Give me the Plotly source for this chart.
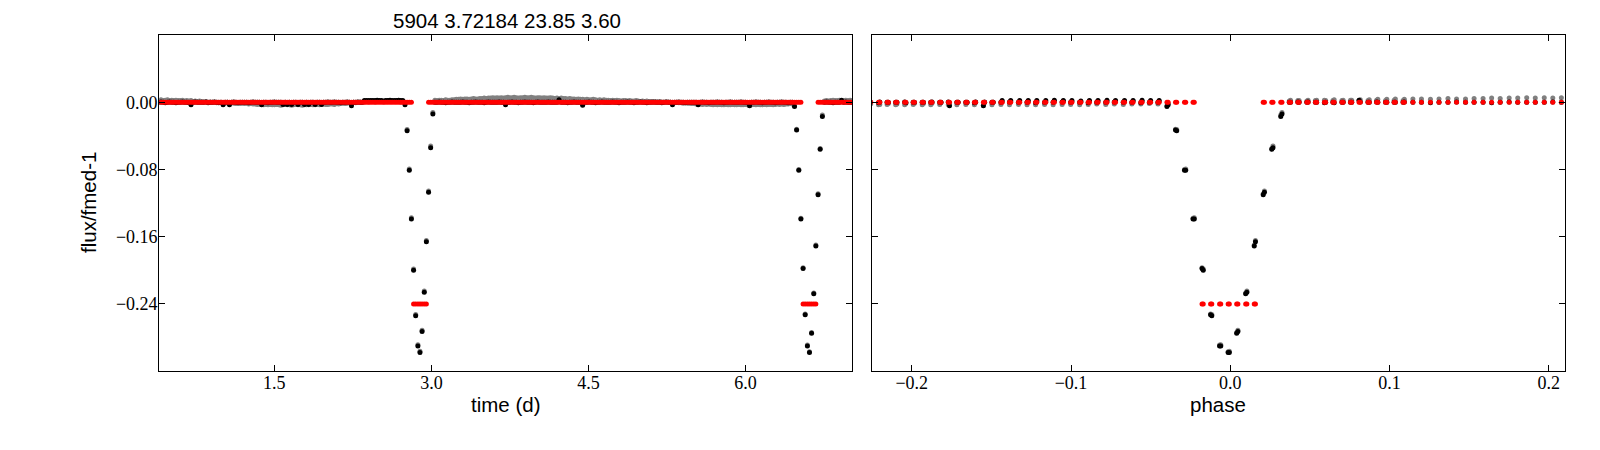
import numpy as np
import plotly.graph_objects as go

# ---------------- data ----------------
# observation times (days), long-cadence sampling
time_d = [
    0.398, 0.418, 0.439, 0.459, 0.480, 0.500, 0.521, 0.541, 0.561, 0.582,
    0.602, 0.623, 0.643, 0.664, 0.684, 0.705, 0.725, 0.745, 0.766, 0.786,
    0.807, 0.827, 0.848, 0.868, 0.888, 0.909, 0.929, 0.950, 0.970, 0.991,
    1.011, 1.031, 1.052, 1.072, 1.093, 1.113, 1.134, 1.154, 1.174, 1.195,
    1.215, 1.236, 1.256, 1.277, 1.297, 1.318, 1.338, 1.358, 1.379, 1.399,
    1.420, 1.440, 1.461, 1.481, 1.501, 1.522, 1.542, 1.563, 1.583, 1.604,
    1.624, 1.644, 1.665, 1.685, 1.706, 1.726, 1.747, 1.767, 1.788, 1.808,
    1.828, 1.849, 1.869, 1.890, 1.910, 1.931, 1.951, 1.971, 1.992, 2.012,
    2.033, 2.053, 2.074, 2.094, 2.114, 2.135, 2.155, 2.176, 2.196, 2.217,
    2.237, 2.257, 2.278, 2.298, 2.319, 2.339, 2.360, 2.380, 2.401, 2.421,
    2.441, 2.462, 2.482, 2.503, 2.523, 2.544, 2.564, 2.584, 2.605, 2.625,
    2.646, 2.666, 2.687, 2.707, 2.727, 2.748, 2.768, 2.789, 2.809, 2.830,
    2.850, 2.871, 2.891, 2.911, 2.932, 2.952, 2.973, 2.993, 3.014, 3.034,
    3.054, 3.075, 3.095, 3.116, 3.136, 3.157, 3.177, 3.197, 3.218, 3.238,
    3.259, 3.279, 3.300, 3.320, 3.340, 3.361, 3.381, 3.402, 3.422, 3.443,
    3.463, 3.484, 3.504, 3.524, 3.545, 3.565, 3.586, 3.606, 3.627, 3.647,
    3.667, 3.688, 3.708, 3.729, 3.749, 3.770, 3.790, 3.810, 3.831, 3.851,
    3.872, 3.892, 3.913, 3.933, 3.954, 3.974, 3.994, 4.015, 4.035, 4.056,
    4.076, 4.097, 4.117, 4.137, 4.158, 4.178, 4.199, 4.219, 4.240, 4.260,
    4.280, 4.301, 4.321, 4.342, 4.362, 4.383, 4.403, 4.423, 4.444, 4.464,
    4.485, 4.505, 4.526, 4.546, 4.567, 4.587, 4.607, 4.628, 4.648, 4.669,
    4.689, 4.710, 4.730, 4.750, 4.771, 4.791, 4.812, 4.832, 4.853, 4.873,
    4.893, 4.914, 4.934, 4.955, 4.975, 4.996, 5.016, 5.037, 5.057, 5.077,
    5.098, 5.118, 5.139, 5.159, 5.180, 5.200, 5.220, 5.241, 5.261, 5.282,
    5.302, 5.323, 5.343, 5.363, 5.384, 5.404, 5.425, 5.445, 5.466, 5.486,
    5.507, 5.527, 5.547, 5.568, 5.588, 5.609, 5.629, 5.650, 5.670, 5.690,
    5.711, 5.731, 5.752, 5.772, 5.793, 5.813, 5.833, 5.854, 5.874, 5.895,
    5.915, 5.936, 5.956, 5.976, 5.997, 6.017, 6.038, 6.058, 6.079, 6.099,
    6.120, 6.140, 6.160, 6.181, 6.201, 6.222, 6.242, 6.263, 6.283, 6.303,
    6.324, 6.344, 6.365, 6.385, 6.406, 6.426, 6.446, 6.467, 6.487, 6.508,
    6.528, 6.549, 6.569, 6.590, 6.610, 6.630, 6.651, 6.671, 6.692, 6.712,
    6.733, 6.753, 6.773, 6.794, 6.814, 6.835, 6.855, 6.876, 6.896, 6.916,
    6.937, 6.957, 6.978, 6.998, 7.019,
]

# raw relative flux (grey), parts per thousand
raw_flux_ppt = [
    2.5, 3, 2, 2.5, 3, 2, 2.5, 2, 2.5, 2,
    2, 2.5, 1.5, 2, 1.5, 2, 1, 1.5, 1, 1.5,
    1, 0.5, 1, 0, 0.5, 0, 0.5, -0.5, 0, -0.5,
    -0.5, -1, 0, -1, -0.5, -1, -1.5, -1, -1.5, -1,
    -1.5, -1, -2, -1.5, -2, -2, -2.5, -2, -2.5, -3,
    -2.5, -3, -2.5, -3, -3, -2.5, -3, -3.5, -3, -2.5,
    -3, -3, -3.5, -3, -2.5, -3, -3, -3.5, -3, -3,
    -3, -2.5, -3, -3, -2.5, -3, -2.5, -2, -2.5, -2.5,
    -2, -2, -2.5, -1.5, -2, -1.5, -1, -1.5, -1, -0.5,
    -0.5, 0, -0.5, 0, 0.5, 0, 0.5, 1, 0.5, 1,
    1, 0.5, 1, 1.5, 1, 0.5, 1, 1.5, 1, 1,
    1, 1.5, 1, 0.5, 1, -1.5, -32.5, -79.5, -137.5, -198.5,
    -252.5, -288.5, -296.5, -271.5, -224.5, -164.5, -105.5, -52, -12, 2.5,
    2, 2.5, 2.5, 2, 3, 2.5, 2.5, 3, 3, 3.5,
    3.5, 4, 3.5, 4, 4, 3.5, 4, 4.5, 4, 4,
    4.5, 4.5, 5, 4.5, 5, 5, 5.5, 5, 5.5, 5,
    5.5, 5, 5.5, 6, 5.5, 5.5, 6, 5.5, 5, 5.5,
    5.5, 6, 5.5, 5.5, 6, 5.5, 5, 5.5, 5.5, 5,
    5.5, 5, 5, 5.5, 5, 4.5, 5, 4.5, 5, 4.5,
    4.5, 4, 4.5, 4, 4, 3.5, 4, 3.5, 3.5, 3,
    3.5, 3, 3, 3.5, 3, 2.5, 3, 2.5, 3, 2.5,
    2.5, 2, 2.5, 2, 2.5, 2, 1.5, 2, 2, 1.5,
    2, 1.5, 1.5, 2, 1.5, 1, 1.5, 1, 1.5, 1,
    1, 0.5, 1, 0.5, 1, 0.5, 0, 0.5, 0.5, 0,
    0, -0.5, 0, -0.5, -0.5, -1, -0.5, -1, -1, -1.5,
    -1.5, -2, -1.5, -2, -2.5, -2, -2.5, -2, -2.5, -3,
    -2.5, -3, -2.5, -3, -3, -2.5, -3, -3, -2.5, -3,
    -3, -2.5, -3, -3, -2.5, -3, -3.5, -3, -2.5, -3,
    -2.5, -3, -3, -2.5, -3, -2.5, -2.5, -3, -2.5, -2,
    -2.5, -2, -2.5, -2, -2, -1.5, -2, -4, -32, -80,
    -138, -197, -252, -289, -297, -274, -227, -170, -109, -55,
    -15, 1.5, 2, 1.5, 2, 2.5, 2, 2, 2.5, 2,
    2, 2.5, 2, 2.5, 2,
]

# detrended flux (black), parts per thousand
detrended_flux_ppt = [
    0, 0.5, 0, -0.5, 0, 0.5, 0, 0, -0.5, 0,
    0, 0.5, 0, 0, -0.5, -3, 0, 0.5, 0, 0,
    0, 0, 0.5, -0.5, 0, 0, 0.5, 0, -0.5, 0,
    -3, 0, 0, -3, 0, 0.5, 0, -0.5, 0, 0,
    0, 0, -0.5, 0, 0.5, 0, 0, 0, -3, 0,
    0, -0.5, 0, 0, 0.5, 0, 0, 0, -2.5, 0,
    -2.5, 0, -2.5, 0, 0, -2.5, 0, 0, -2.5, 0,
    -2.5, 0, 0, -2.5, 0, 0, -2.5, 0, 0, 0.5,
    0, 0, 0.5, 0, 0, -0.5, 0, 0, 0.5, 0,
    -4, 0, 0, 0.5, 0, 0, 2, 2, 2, 2,
    2, 2, 2.5, 2, 2, 1.5, 2, 2, 2.5, 2,
    2, 2, 2.5, 2, 2, -3, -34, -81, -139, -200,
    -254, -290, -298, -273, -226, -166, -107, -54, -14, 0,
    0, 0.5, 0, 0, -0.5, 0, 0, 0.5, 0, 0,
    0, 0, 0.5, 0, 0, -0.5, 0, 0, 0.5, 0,
    0, 0, -0.5, 0, 0.5, 0, 0, 0, 0, 0.5,
    0, 0, -3, 0, 0, 0.5, 0, 0, -0.5, 0,
    0, 0.5, 0, 0, 0, -0.5, 0, 0.5, 0, 0,
    0, 0, 0.5, 0, 0, 0, 0, 3, 0, 0,
    0, -0.5, 0, 0, 0.5, 0, 0, 0, -3.5, 0,
    0, 0.5, 0, 0, -0.5, 0, 0, 0.5, 0, 0,
    0, 0, 0.5, 0, 0, -0.5, 0, 0, 0, 0.5,
    0, 0, -0.5, 0, 0, 0.5, 0, 0, -0.5, 0,
    0, 0.5, 0, 0, 0, -0.5, 0, 0.5, 0, 0,
    -3, 0, 0, 0.5, 0, 0, -0.5, 0, 0, 0,
    0, 0, -3, 0, 0.5, 0, 0, -0.5, 0, 0,
    0, 0.5, 0, 0, -0.5, 0, 0, 0.5, 0, 0,
    0, 0, 0.5, 0, 0, -0.5, -4, 0, 0, 0.5,
    0, 0, -0.5, 0, 0, 0.5, 0, 0, -0.5, 0,
    0, 0.5, 0, 0, -0.5, 0, 0, -5, -33, -81,
    -139, -198, -253, -290, -298, -275, -228, -171, -110, -56,
    -17, 0, 0.5, 0, 0, -0.5, 0, 0, 0, 2.5,
    0, 0.5, 0, 0, 0,
]

# box transit model (red), parts per thousand
model_flux_ppt = [
    0, 0, 0, 0, 0, 0, 0, 0, 0, 0,
    0, 0, 0, 0, 0, 0, 0, 0, 0, 0,
    0, 0, 0, 0, 0, 0, 0, 0, 0, 0,
    0, 0, 0, 0, 0, 0, 0, 0, 0, 0,
    0, 0, 0, 0, 0, 0, 0, 0, 0, 0,
    0, 0, 0, 0, 0, 0, 0, 0, 0, 0,
    0, 0, 0, 0, 0, 0, 0, 0, 0, 0,
    0, 0, 0, 0, 0, 0, 0, 0, 0, 0,
    0, 0, 0, 0, 0, 0, 0, 0, 0, 0,
    0, 0, 0, 0, 0, 0, 0, 0, 0, 0,
    0, 0, 0, 0, 0, 0, 0, 0, 0, 0,
    0, 0, 0, 0, 0, 0, 0, 0, 0, -240,
    -240, -240, -240, -240, -240, -240, 0, 0, 0, 0,
    0, 0, 0, 0, 0, 0, 0, 0, 0, 0,
    0, 0, 0, 0, 0, 0, 0, 0, 0, 0,
    0, 0, 0, 0, 0, 0, 0, 0, 0, 0,
    0, 0, 0, 0, 0, 0, 0, 0, 0, 0,
    0, 0, 0, 0, 0, 0, 0, 0, 0, 0,
    0, 0, 0, 0, 0, 0, 0, 0, 0, 0,
    0, 0, 0, 0, 0, 0, 0, 0, 0, 0,
    0, 0, 0, 0, 0, 0, 0, 0, 0, 0,
    0, 0, 0, 0, 0, 0, 0, 0, 0, 0,
    0, 0, 0, 0, 0, 0, 0, 0, 0, 0,
    0, 0, 0, 0, 0, 0, 0, 0, 0, 0,
    0, 0, 0, 0, 0, 0, 0, 0, 0, 0,
    0, 0, 0, 0, 0, 0, 0, 0, 0, 0,
    0, 0, 0, 0, 0, 0, 0, 0, 0, 0,
    0, 0, 0, 0, 0, 0, 0, 0, 0, 0,
    0, 0, 0, 0, 0, 0, 0, 0, 0, 0,
    0, 0, 0, 0, 0, 0, 0, 0, 0, 0,
    0, -240, -240, -240, -240, -240, -240, -240, 0, 0,
    0, 0, 0, 0, 0, 0, 0, 0, 0, 0,
    0, 0, 0, 0, 0,
]

PERIOD = 3.72184      # days (from the title)
EPOCH = 2.8932        # transit mid-time, days
title_text = "5904 3.72184 23.85 3.60"

y_tick_vals = [0.0, -0.08, -0.16, -0.24]
y_tick_text = ["0.00", "\u22120.08", "\u22120.16", "\u22120.24"]
time_tick_vals = [1.5, 3.0, 4.5, 6.0]
time_tick_text = ["1.5", "3.0", "4.5", "6.0"]
phase_tick_vals = [-0.2, -0.1, 0.0, 0.1, 0.2]
phase_tick_text = ["\u22120.2", "\u22120.1", "0.0", "0.1", "0.2"]

assert len(time_d) == len(raw_flux_ppt) == len(detrended_flux_ppt) == len(model_flux_ppt)

# ---------------- derived ----------------
t = np.array(time_d)
raw = np.array(raw_flux_ppt) / 1000.0
det = np.array(detrended_flux_ppt) / 1000.0
mod = np.array(model_flux_ppt) / 1000.0
phase = ((t - EPOCH) / PERIOD + 0.5) % 1.0 - 0.5

W, H = 1600, 450
def px(x0, x1):
    return [x0 / W, x1 / W]
def py(top, bottom):
    return [1 - bottom / H, 1 - top / H]

fig = go.Figure()
msize = 5
series = [(raw, "#808080"), (det, "#000000"), (mod, "#ff0000")]
for yv, col in series:
    fig.add_trace(go.Scatter(x=t, y=yv, mode="markers", xaxis="x", yaxis="y",
                             marker=dict(size=msize, color=col, line=dict(width=0)),
                             showlegend=False, hoverinfo="skip"))
for yv, col in series:
    fig.add_trace(go.Scatter(x=phase, y=yv, mode="markers", xaxis="x2", yaxis="y2",
                             marker=dict(size=msize, color=col, line=dict(width=0)),
                             showlegend=False, hoverinfo="skip"))

tick_font = dict(family="Liberation Serif, DejaVu Serif, serif", size=18, color="black")
common = dict(showline=True, linecolor="black", linewidth=1.3, mirror="allticks",
              ticks="inside", ticklen=6, tickwidth=1, tickcolor="black",
              showgrid=False, zeroline=False, tickfont=tick_font)

y_dom = py(35.1, 371.1)
fig.update_layout(
    width=W, height=H,
    margin=dict(l=0, r=0, t=0, b=0),
    paper_bgcolor="white", plot_bgcolor="white",
    showlegend=False,
    xaxis=dict(domain=px(159.3, 852.0), range=[0.402, 7.016], anchor="y",
               tickmode="array", tickvals=time_tick_vals, ticktext=time_tick_text,
               ticklabelstandoff=-5, **common),
    yaxis=dict(domain=y_dom, range=[-0.32, 0.08], anchor="x",
               tickmode="array", tickvals=y_tick_vals, ticktext=y_tick_text,
               ticklabelstandoff=-3, **common),
    xaxis2=dict(domain=px(871.5, 1564.7), range=[-0.2253, 0.2100], anchor="y2",
                tickmode="array", tickvals=phase_tick_vals, ticktext=phase_tick_text,
                ticklabelstandoff=-5, **common),
    yaxis2=dict(domain=y_dom, range=[-0.32, 0.08], anchor="x2", showticklabels=False,
                tickmode="array", tickvals=y_tick_vals, ticktext=y_tick_text, **common),
)

label_font = dict(family="Liberation Sans, Arial, sans-serif", size=20.5, color="black")
fig.add_annotation(text=title_text, xref="paper", yref="paper",
                   x=507 / W, y=1 - 21 / H, xanchor="center", yanchor="middle",
                   showarrow=False, font=label_font)
fig.add_annotation(text="time (d)", xref="paper", yref="paper",
                   x=505.6 / W, y=1 - 404.5 / H, xanchor="center", yanchor="middle",
                   showarrow=False, font=label_font)
fig.add_annotation(text="phase", xref="paper", yref="paper",
                   x=1218.1 / W, y=1 - 404.5 / H, xanchor="center", yanchor="middle",
                   showarrow=False, font=label_font)
fig.add_annotation(text="flux/fmed-1", xref="paper", yref="paper",
                   x=88 / W, y=1 - 203 / H, xanchor="center", yanchor="middle",
                   textangle=-90, showarrow=False, font=label_font)

# remove the browser's default page margin so figure pixels map 1:1 to the window
fig.write_html("out.html", config={"displayModeBar": False},
               post_script="document.body.style.margin='0';")
